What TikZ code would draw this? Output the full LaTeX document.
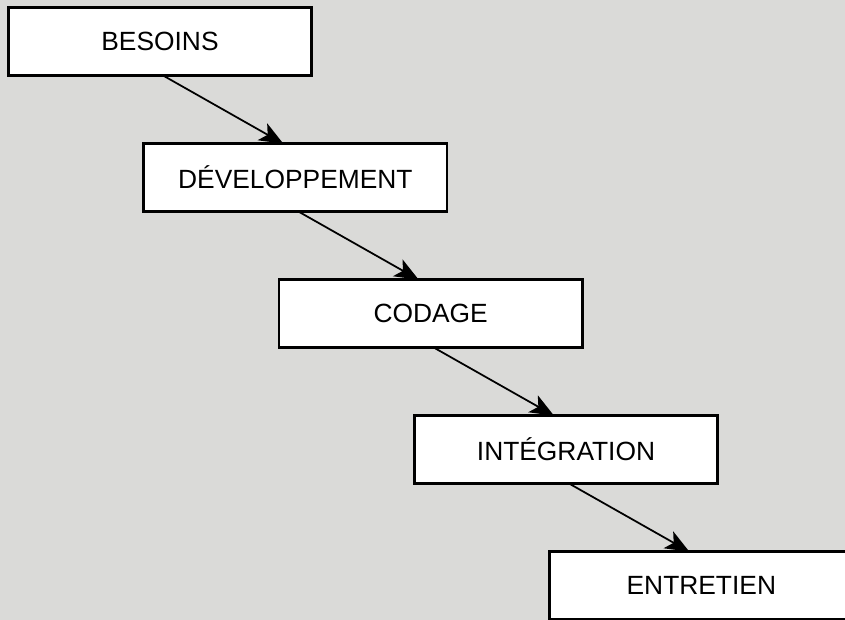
\documentclass[tikz,border=0pt]{standalone}
\usepackage{fontspec}
\setmainfont{Liberation Sans}
\usepackage{xcolor}
\usetikzlibrary{arrows.meta, positioning}

\definecolor{paper}{RGB}{218,218,216}

\begin{document}
\begin{tikzpicture}[
    % styles
    phase/.style={
        draw=black, fill=white, line width=2.4pt, outer sep=0pt,
        minimum width=9.1cm, minimum height=2.04cm, align=center,
        font=\fontsize{22.5}{26}\selectfont
    },
    flow/.style={
        -{Stealth[length=0.72cm, width=0.58cm, inset=0.18cm]}, line width=1.5pt, black
    }
]

    % --- background / frame ---
    \clip (0,0) rectangle (25.35,-18.6);
    \fill[paper] (0,0) rectangle (25.35,-18.6);

    % --- phases ---
    \node[phase] (besoins) at (4.8,-1.25) {BESOINS};
    \node[phase, below=2.04cm of besoins, xshift=4.06cm] (developpement) {DÉVELOPPEMENT};
    \node[phase, below=2.04cm of developpement, xshift=4.06cm] (codage) {CODAGE};
    \node[phase, below=2.04cm of codage, xshift=4.06cm] (integration) {INTÉGRATION};
    \node[phase, below=2.04cm of integration, xshift=4.06cm] (entretien) {ENTRETIEN};

    % --- arrows ---
    \foreach \a/\b in {besoins/developpement, developpement/codage, codage/integration, integration/entretien}
        \draw[flow] ([xshift=0.1cm]\a.south) -- ([xshift=-0.36cm]\b.north);

\end{tikzpicture}
\end{document}
